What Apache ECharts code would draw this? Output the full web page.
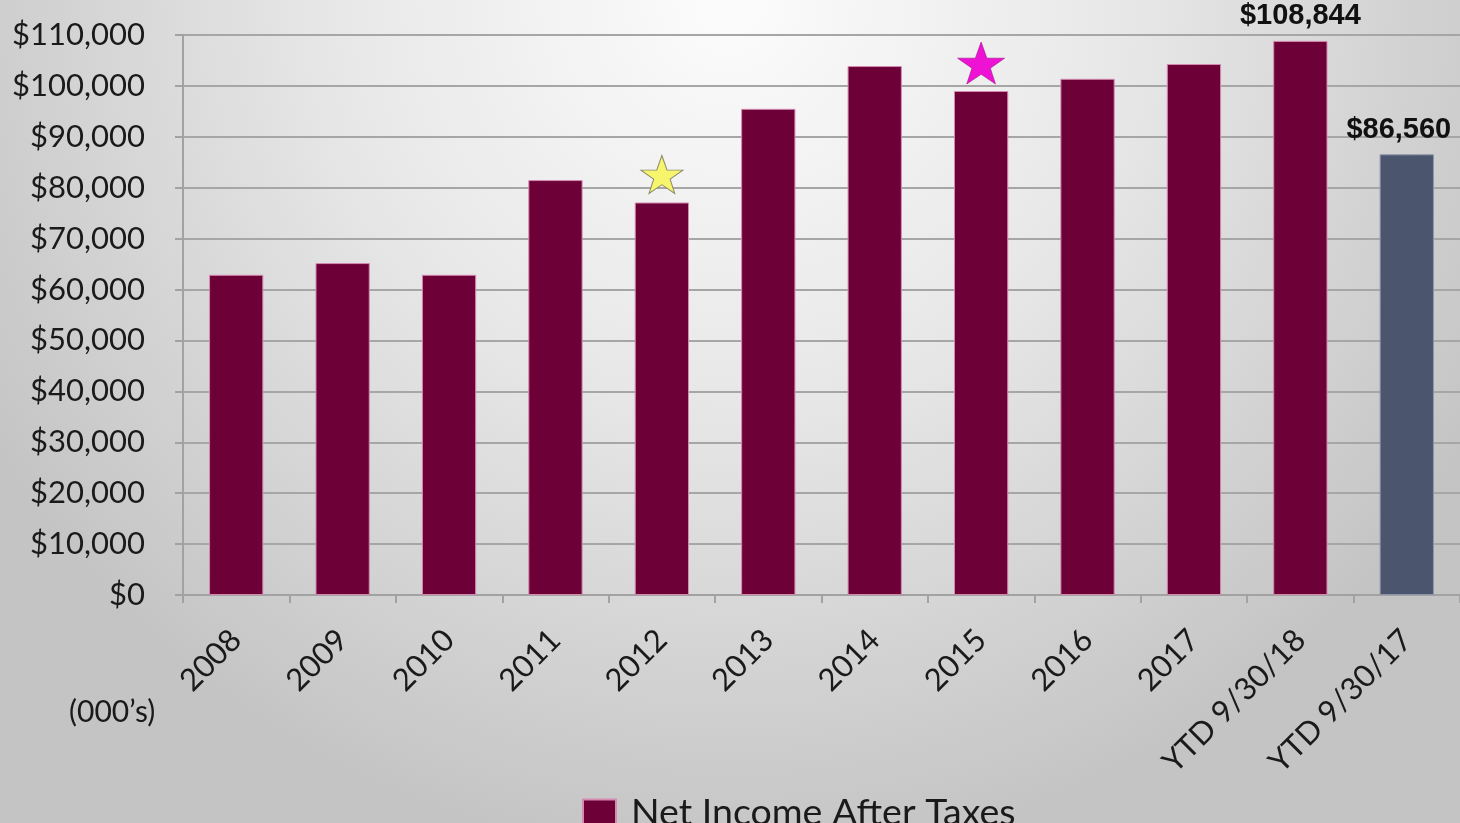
<!DOCTYPE html>
<html>
<head>
<meta charset="utf-8">
<script src="https://cdn.jsdelivr.net/npm/echarts@6/dist/echarts.min.js"></script>
<style>
  html, body { margin: 0; padding: 0; width: 1460px; height: 823px; overflow: hidden; }
  #chart { width: 1460px; height: 823px; }
</style>
</head>
<body>
<div id="chart"></div>
<script>
// Net income after taxes, in thousands of dollars
const categories = ['2008', '2009', '2010', '2011', '2012', '2013', '2014', '2015', '2016', '2017', 'YTD 9/30/18', 'YTD 9/30/17'];
const netIncome = [62900, 65200, 62900, 81500, 77100, 95500, 103900, 99000, 101400, 104300, 108844, 86560];
const labelledBars = ['YTD 9/30/18', 'YTD 9/30/17'];
const comparisonBar = 'YTD 9/30/17';
const yTicks = { min: 0, max: 110000, interval: 10000 };

// Highlight stars above selected years
const starYellow = [['2012', 82600]];
const starMagenta = [['2015', 104500]];

const STAR = 'path://M50,0 L61.8,35.1 L98.1,35.1 L68.8,56.7 L79.4,91 L50,70 L20.6,91 L31.2,56.7 L1.9,35.1 L38.2,35.1 Z';
const FONT = 'Lato, "Open Sans", sans-serif';
const MAROON = '#6c0037';
const SLATE = '#4b566e';

const money = v => '$' + Math.round(v).toLocaleString('en-US');

const barData = categories.map((c, i) => {
  const item = { value: netIncome[i] };
  if (c === comparisonBar) item.itemStyle = { color: SLATE, borderColor: '#8c96aa' };
  if (labelledBars.includes(c)) {
    item.label = { show: true };
    if (c === comparisonBar) item.label.offset = [-8, 0];
  }
  return item;
});

const chart = echarts.init(document.getElementById('chart'), null, { renderer: 'canvas' });
chart.setOption({
  animation: false,
  backgroundColor: {
    type: 'radial', x: 0.5, y: 0.0, r: 1.05,
    colorStops: [
      { offset: 0, color: '#fcfcfc' },
      { offset: 0.45, color: '#e8e8e8' },
      { offset: 1, color: '#c4c4c4' }
    ]
  },
  grid: { left: 183, right: 0, top: 35, bottom: 228, containLabel: false },
  legend: {
    data: [{ name: 'Net Income After Taxes', icon: 'rect' }],
    left: 577, top: 789,
    itemWidth: 33, itemHeight: 27, itemGap: 10,
    textStyle: { fontFamily: FONT, fontSize: 37.5, color: '#1a1a1a', padding: [0, 0, 0, 10] }
  },
  xAxis: {
    type: 'category',
    data: categories,
    boundaryGap: true,
    axisLine: { lineStyle: { color: '#a2a2a2', width: 2 } },
    axisTick: { show: true, length: 8, interval: 0, lineStyle: { color: '#a2a2a2', width: 2 } },
    axisLabel: {
      interval: 0, rotate: 45, margin: 40,
      fontFamily: FONT, fontSize: 31, color: '#1a1a1a'
    },
    splitLine: { show: false }
  },
  yAxis: {
    type: 'value',
    min: yTicks.min, max: yTicks.max, interval: yTicks.interval,
    axisLine: { show: true, lineStyle: { color: '#a2a2a2', width: 2 } },
    axisTick: { show: true, length: 8, lineStyle: { color: '#a2a2a2', width: 2 } },
    axisLabel: {
      margin: 38, fontFamily: FONT, fontSize: 31, color: '#1a1a1a',
      formatter: money
    },
    splitLine: { lineStyle: { color: '#a6a6a6', width: 2 } }
  },
  graphic: [
    {
      type: 'text', left: 69, top: 697,
      style: { text: '(000\u2019s)', font: '30px ' + FONT, fill: '#1a1a1a' }
    }
  ],
  series: [
    {
      name: 'Net Income After Taxes',
      type: 'bar',
      data: barData,
      barWidth: '51%',
      itemStyle: { color: MAROON, borderColor: '#d68ab0', borderWidth: 1 },
      label: {
        show: false, position: 'top', distance: 10,
        fontFamily: '"Liberation Sans", Arial, sans-serif', fontWeight: 'bold',
        fontSize: 29, color: '#111111',
        formatter: p => money(p.value)
      }
    },
    {
      name: 'star-yellow',
      type: 'scatter',
      data: starYellow,
      symbol: STAR,
      symbolSize: [42, 38],
      itemStyle: { color: '#f7f56c', borderColor: '#8a8a6a', borderWidth: 1, opacity: 1 },
      z: 5, silent: true
    },
    {
      name: 'star-magenta',
      type: 'scatter',
      data: starMagenta,
      symbol: STAR,
      symbolSize: [47, 42],
      itemStyle: { color: '#ee12d4', borderColor: '#a0108c', borderWidth: 0.6, opacity: 1 },
      z: 5, silent: true
    }
  ]
});
</script>
</body>
</html>
